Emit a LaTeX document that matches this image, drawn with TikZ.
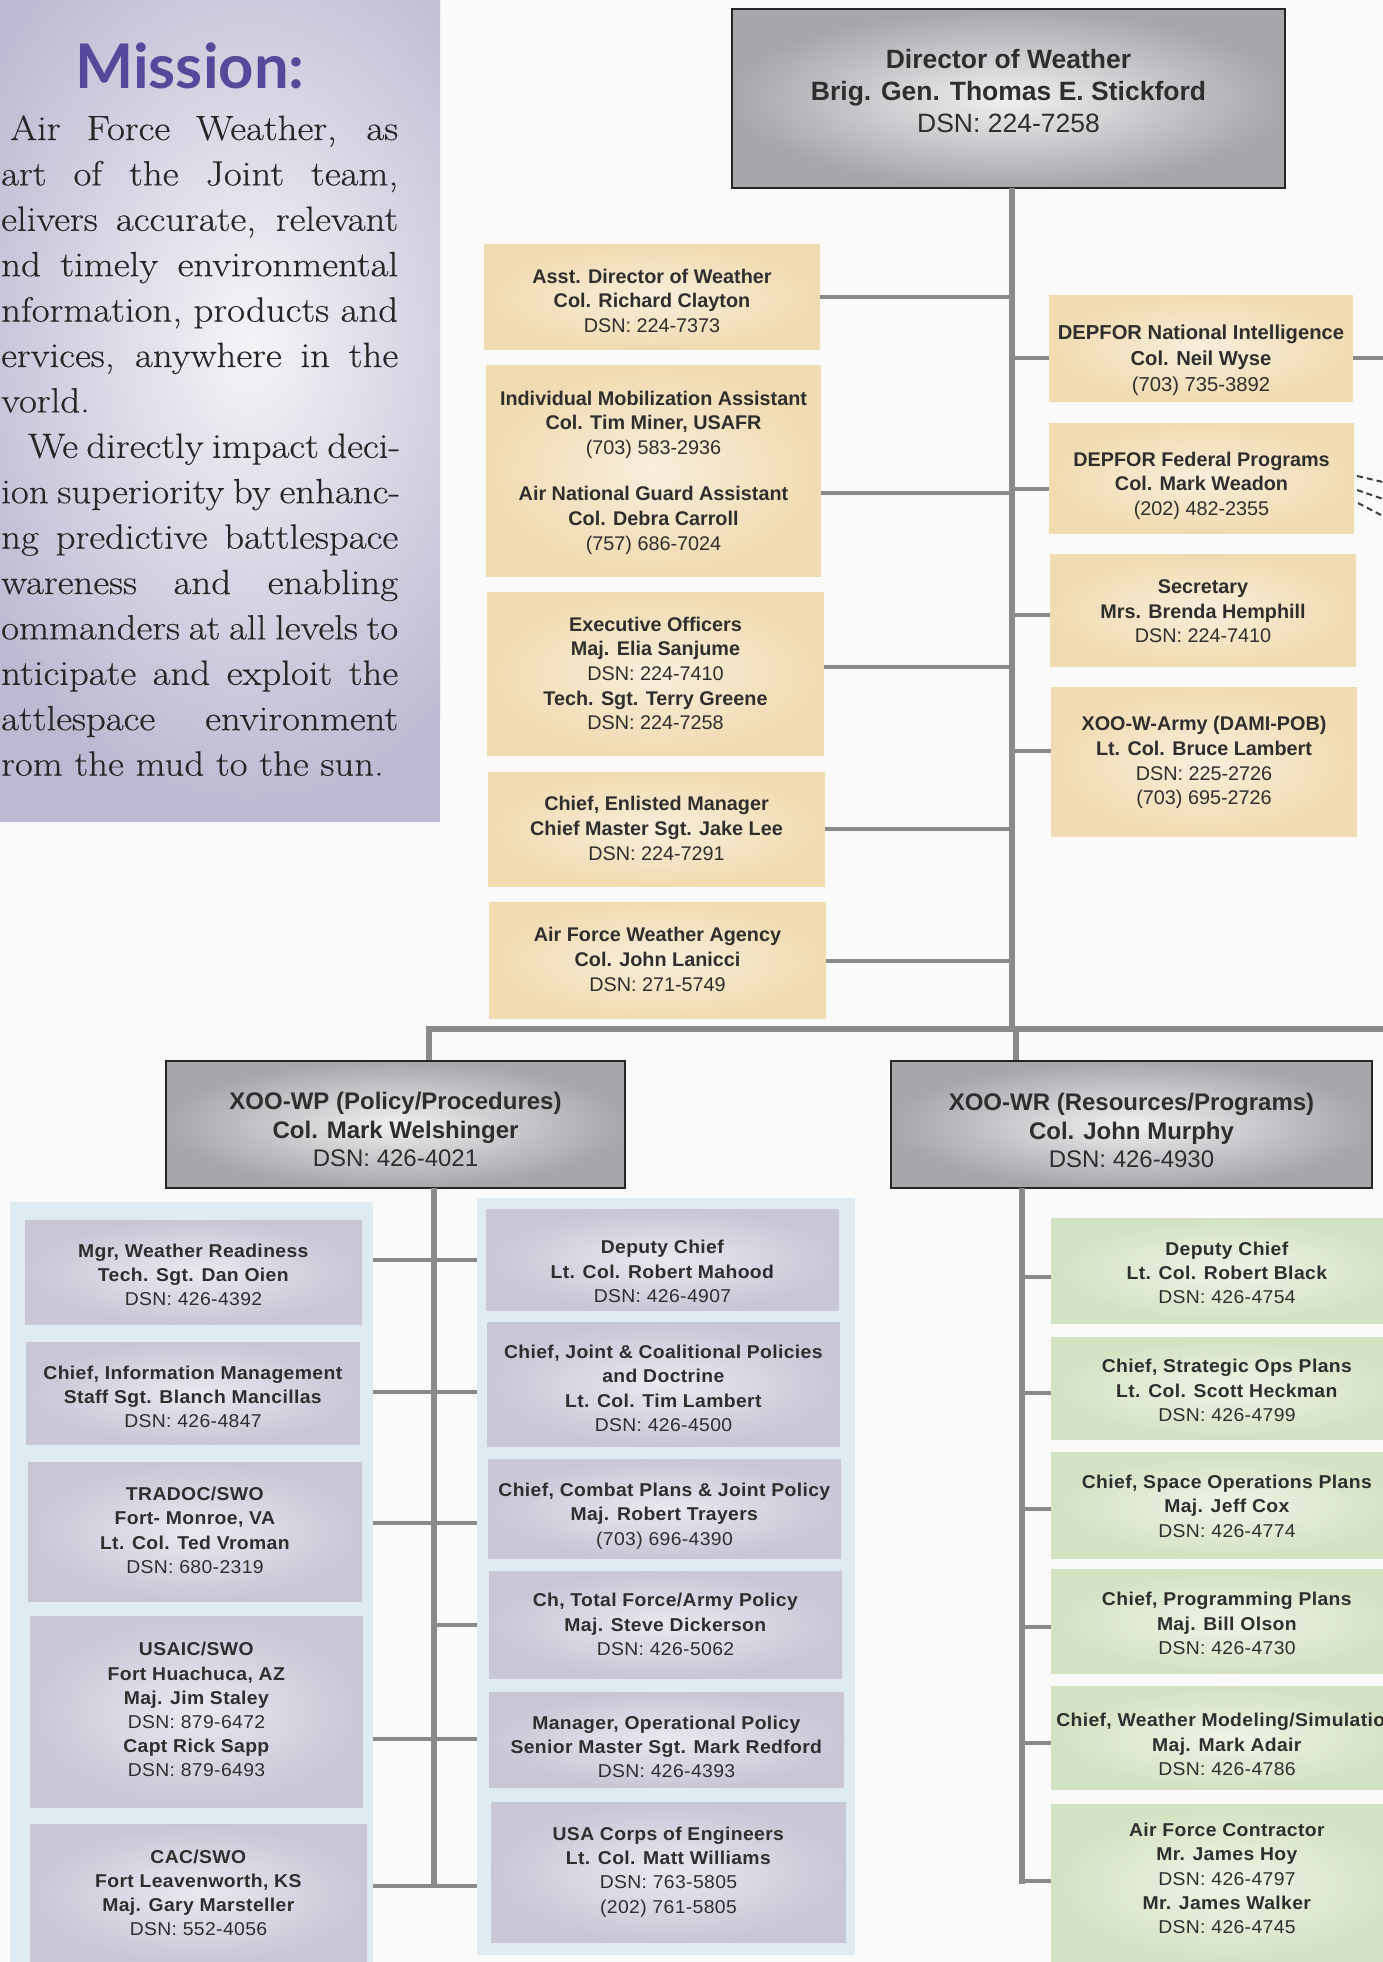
\documentclass[tikz,border=0pt]{standalone}
\usepackage{fontspec}
\usepackage{graphicx}
\newfontfamily\nsans{Liberation Sans}
\newfontfamily\wsans[FakeStretch=1.04,LetterSpace=2]{Liberation Sans}
\newfontfamily\titlef{Lato}
\newfontfamily\misf[FakeStretch=1.11,FakeBold=0.4]{Latin Modern Roman}
\definecolor{pagebg}{HTML}{FAFAFA}
\definecolor{tanout}{HTML}{F1DBB0}
\definecolor{tanin}{HTML}{F8EEDB}
\definecolor{lavout}{HTML}{C9C6D6}
\definecolor{lavin}{HTML}{E9E8EF}
\definecolor{grnout}{HTML}{D3E2C2}
\definecolor{grnin}{HTML}{EEF3E7}
\definecolor{grayout}{HTML}{A6A6AB}
\definecolor{grayin}{HTML}{F0F0F2}
\definecolor{panel}{HTML}{DEECF1}
\definecolor{conncol}{HTML}{8A8A8A}
\definecolor{txt}{HTML}{2E2E2E}
\definecolor{misout}{HTML}{BDB9D2}
\definecolor{misin}{HTML}{F4F4F7}
\definecolor{purp}{HTML}{58489B}
% #1 style, #2 name, #3 cx, #4 cy, #5 w, #6 h, #7 text offset (down), #8 text
\newcommand\orgbox[8]{%
  \node[#1, minimum width=#5pt, minimum height=#6pt] (#2) at (#3,#4) {};
  \node[#1text] (#2-t) at ([yshift=-#7pt]#2.center) {#8};}
\begin{document}
\begin{tikzpicture}[x=1pt,y=-1pt,
  box/.style={inner sep=0pt},
  btext/.style={inner sep=0pt, align=center, text=txt},
  tanbox/.style={box, inner color=tanin, outer color=tanout},
  tanboxtext/.style={btext, font=\nsans\fontsize{19.8}{24.6}\selectfont},
  tanbigtext/.style={btext, font=\nsans\fontsize{20.2}{26.2}\selectfont},
  lavbox/.style={box, inner color=lavin, outer color=lavout},
  lavboxtext/.style={btext, font=\wsans\fontsize{18.6}{24.2}\selectfont},
  grnbox/.style={box, inner color=grnin, outer color=grnout},
  grnboxtext/.style={btext, font=\wsans\fontsize{18.6}{24.2}\selectfont},
  headbox/.style={box, inner color=grayin, outer color=grayout, draw=black!85, line width=2.5pt},
  headboxtext/.style={btext, font=\nsans\fontsize{24}{28.8}\selectfont},
  dirbox/.style={headbox},
  dirboxtext/.style={btext, font=\nsans\fontsize{26.5}{32}\selectfont},
  conn/.style={draw=conncol, line width=4pt},
  trunkline/.style={draw=conncol, line width=6.5pt},
  mline/.style={inner sep=0pt, anchor=base west, text=black!85, font=\misf\fontsize{35}{45}\selectfont}
]
\useasboundingbox (0,0) rectangle (1383,1962);
\begin{scope}
\clip (0,0) rectangle (1383,1962);
\fill[pagebg] (0,0) rectangle (1383,1962);

% Mission panel
\begin{scope}
\clip (0,0) rectangle (440,822);
\fill[misout] (0,0) rectangle (440,822);
\shade[inner color=misin, outer color=misout] (250,340) ellipse (320 and 470);
\end{scope}
\node[inner sep=0pt, anchor=base, text=purp] (mtitle) at (190,88) {\resizebox{229pt}{!}{\titlef\bfseries Mission:}};
\node[mline] (mt1) at (10,140) {\makebox[388pt][s]{Air Force Weather, as}};
\node[mline] (mt2) at (1,185.4) {\makebox[397pt][s]{art of the Joint team,}};
\node[mline] (mt3) at (1,230.8) {\makebox[397pt][s]{elivers accurate, relevant}};
\node[mline] (mt4) at (1,276.2) {\makebox[397pt][s]{nd timely environmental}};
\node[mline] (mt5) at (1,321.6) {\makebox[397pt][s]{nformation, products and}};
\node[mline] (mt6) at (1,367.0) {\makebox[397pt][s]{ervices, anywhere in the}};
\node[mline] (mt7) at (1,412.4) {vorld.};
\node[mline] (mt8) at (28,457.8) {\makebox[372pt][s]{We directly impact deci-}};
\node[mline] (mt9) at (1,503.2) {\makebox[399pt][s]{ion superiority by enhanc-}};
\node[mline] (mt10) at (1,548.6) {\makebox[397pt][s]{ng predictive battlespace}};
\node[mline] (mt11) at (1,594.0) {\makebox[397pt][s]{wareness and enabling}};
\node[mline] (mt12) at (1,639.4) {\makebox[397pt][s]{ommanders at all levels to}};
\node[mline] (mt13) at (1,684.8) {\makebox[397pt][s]{nticipate and exploit the}};
\node[mline] (mt14) at (1,730.2) {\makebox[397pt][s]{attlespace environment}};
\node[mline] (mt15) at (1,775.6) {rom the mud to the sun.};

% Panels
\fill[panel] (10,1202) rectangle (373,1975);
\fill[panel] (477,1198) rectangle (855,1955);
\coordinate (lpE) at (373,1200);
\coordinate (mpW) at (477,1200);

% Director
\orgbox{dirbox}{dir}{1008.5}{98.5}{553}{179}{-7}{\textbf{Director of Weather}\\\textbf{Brig. Gen. Thomas E. Stickford}\\DSN: 224-7258}

% Upper left tan
\orgbox{tanbox}{asst}{652}{296.5}{336}{105}{4.4}{\textbf{Asst. Director of Weather}\\\textbf{Col. Richard Clayton}\\DSN: 224-7373}
\orgbox{tanbox}{ima}{653.5}{470.5}{335}{211}{2}{\textbf{Individual Mobilization Assistant}\\\textbf{Col. Tim Miner, USAFR}\\(703) 583-2936\\[22pt]\textbf{Air National Guard Assistant}\\\textbf{Col. Debra Carroll}\\(757) 686-7024}
\orgbox{tanbox}{exec}{655.5}{673.5}{337}{163}{0}{\textbf{Executive Officers}\\\textbf{Maj. Elia Sanjume}\\DSN: 224-7410\\\textbf{Tech. Sgt. Terry Greene}\\DSN: 224-7258}
\orgbox{tanbox}{cem}{656.5}{829}{337}{114}{-0.5}{\textbf{Chief, Enlisted Manager}\\\textbf{Chief Master Sgt. Jake Lee}\\DSN: 224-7291}
\orgbox{tanbox}{afwa}{657.5}{960}{337}{116}{-0.5}{\textbf{Air Force Weather Agency}\\\textbf{Col. John Lanicci}\\DSN: 271-5749}

% Upper right tan
\node[tanbox, minimum width=304pt, minimum height=106pt] (depi) at (1201,348) {};
\node[tanbigtext] (depi-t) at ([yshift=-12.5pt]depi.center) {\textbf{DEPFOR National Intelligence}\\\textbf{Col. Neil Wyse}\\(703) 735-3892};
\orgbox{tanbox}{depf}{1201.5}{478}{305}{110}{7.5}{\textbf{DEPFOR Federal Programs}\\\textbf{Col. Mark Weadon}\\(202) 482-2355}
\orgbox{tanbox}{sec}{1203}{610}{306}{112}{1.2}{\textbf{Secretary}\\\textbf{Mrs. Brenda Hemphill}\\DSN: 224-7410}
\orgbox{tanbox}{army}{1204}{761.5}{306}{149}{1.2}{\textbf{XOO-W-Army (DAMI-POB)}\\\textbf{Lt. Col. Bruce Lambert}\\DSN: 225-2726\\(703) 695-2726}

% XOO boxes
\orgbox{headbox}{wp}{395.5}{1124.5}{459}{127}{5}{\textbf{XOO-WP (Policy/Procedures)}\\\textbf{Col. Mark Welshinger}\\DSN: 426-4021}
\orgbox{headbox}{wr}{1131.5}{1124.5}{481}{127}{6}{\textbf{XOO-WR (Resources/Programs)}\\\textbf{Col. John Murphy}\\DSN: 426-4930}

% Left column
\orgbox{lavbox}{l1}{193.5}{1272}{337}{104}{3}{\textbf{Mgr, Weather Readiness}\\\textbf{Tech. Sgt. Dan Oien}\\DSN: 426-4392}
\orgbox{lavbox}{l2}{193}{1393}{334}{102}{4}{\textbf{Chief, Information Management}\\\textbf{Staff Sgt. Blanch Mancillas}\\DSN: 426-4847}
\orgbox{lavbox}{l3}{195}{1531.5}{334}{139}{-1.2}{\textbf{TRADOC/SWO}\\\textbf{Fort- Monroe, VA}\\\textbf{Lt. Col. Ted Vroman}\\DSN: 680-2319}
\orgbox{lavbox}{l4}{196.5}{1711.5}{333}{191}{-1.8}{\textbf{USAIC/SWO}\\\textbf{Fort Huachuca, AZ}\\\textbf{Maj. Jim Staley}\\DSN: 879-6472\\\textbf{Capt Rick Sapp}\\DSN: 879-6493}
\orgbox{lavbox}{l5}{198.5}{1894}{337}{140}{-1.2}{\textbf{CAC/SWO}\\\textbf{Fort Leavenworth, KS}\\\textbf{Maj. Gary Marsteller}\\DSN: 552-4056}

% Middle column
\orgbox{lavbox}{m1}{662.5}{1259.5}{353}{101}{12}{\textbf{Deputy Chief}\\\textbf{Lt. Col. Robert Mahood}\\DSN: 426-4907}
\orgbox{lavbox}{m2}{663.5}{1384}{353}{124}{4.4}{\textbf{Chief, Joint \& Coalitional Policies}\\\textbf{and Doctrine}\\\textbf{Lt. Col. Tim Lambert}\\DSN: 426-4500}
\orgbox{lavbox}{m3}{664.5}{1508.5}{353}{99}{7.5}{\textbf{Chief, Combat Plans \& Joint Policy}\\\textbf{Maj. Robert Trayers}\\(703) 696-4390}
\orgbox{lavbox}{m4}{665.5}{1624.5}{353}{107}{0}{\textbf{Ch, Total Force/Army Policy}\\\textbf{Maj. Steve Dickerson}\\DSN: 426-5062}
\orgbox{lavbox}{m5}{666.5}{1739.5}{355}{95}{7.5}{\textbf{Manager, Operational Policy}\\\textbf{Senior Master Sgt. Mark Redford}\\DSN: 426-4393}
\orgbox{lavbox}{m6}{668.5}{1872}{355}{140}{0}{\textbf{USA Corps of Engineers}\\\textbf{Lt. Col. Matt Williams}\\DSN: 763-5805\\(202) 761-5805}

% Right column
\orgbox{grnbox}{r1}{1227}{1270.5}{352}{105}{2.5}{\textbf{Deputy Chief}\\\textbf{Lt. Col. Robert Black}\\DSN: 426-4754}
\orgbox{grnbox}{r2}{1227}{1388}{352}{102}{2.5}{\textbf{Chief, Strategic Ops Plans}\\\textbf{Lt. Col. Scott Heckman}\\DSN: 426-4799}
\orgbox{grnbox}{r3}{1227}{1505}{352}{106}{1.2}{\textbf{Chief, Space Operations Plans}\\\textbf{Maj. Jeff Cox}\\DSN: 426-4774}
\orgbox{grnbox}{r4}{1227}{1621}{352}{104}{2.5}{\textbf{Chief, Programming Plans}\\\textbf{Maj. Bill Olson}\\DSN: 426-4730}
\orgbox{grnbox}{r5}{1227}{1737.5}{352}{103}{7}{\textbf{Chief, Weather Modeling/Simulation}\\\textbf{Maj. Mark Adair}\\DSN: 426-4786}
\orgbox{grnbox}{r6}{1227}{1884}{352}{160}{-5.5}{\textbf{Air Force Contractor}\\\textbf{Mr. James Hoy}\\DSN: 426-4797\\\textbf{Mr. James Walker}\\DSN: 426-4745}

% Connectors: main trunk and bar
\coordinate (trk) at (1012,188);
\coordinate (barL) at (429,1029);
\coordinate (barR) at (1383,1029);
\coordinate (wrdrop) at (1016,1029);
\coordinate (wpT) at (434,1188);
\coordinate (wrT) at (1022,1188);
\coordinate (edgeR) at (1383,358);
\draw[trunkline] (trk) -- (trk |- barL);
\draw[trunkline] ([xshift=-3pt]barL) -- (barR);
\draw[trunkline] (barL) -- (barL |- wp.north);
\draw[trunkline] (wrdrop) -- (wrdrop |- wr.north);
\draw[trunkline] (wpT) -- (434,1888);
\draw[trunkline] (wrT) -- (1022,1884);

% Upper stubs
\draw[conn] (asst.east |- 0,297) -- (trk |- 0,297);
\draw[conn] (ima.east |- 0,493) -- (trk |- 0,493);
\draw[conn] (exec.east |- 0,667) -- (trk |- 0,667);
\draw[conn] (cem.east |- 0,829) -- (trk |- 0,829);
\draw[conn] (afwa.east |- 0,961) -- (trk |- 0,961);
\draw[conn] (trk |- 0,358) -- (depi.west |- 0,358);
\draw[conn] (trk |- 0,489) -- (depf.west |- 0,489);
\draw[conn] (trk |- 0,615) -- (sec.west |- 0,615);
\draw[conn] (trk |- 0,751) -- (army.west |- 0,751);
\draw[conn] (depi.east |- 0,358) -- (edgeR);

% WP stubs
\draw[conn] (lpE |- 0,1260) -- (mpW |- 0,1260);
\draw[conn] (lpE |- 0,1392) -- (mpW |- 0,1392);
\draw[conn] (lpE |- 0,1523) -- (mpW |- 0,1523);
\draw[conn] (wpT |- 0,1625) -- (mpW |- 0,1625);
\draw[conn] (lpE |- 0,1739) -- (mpW |- 0,1739);
\draw[conn] (lpE |- 0,1886) -- (mpW |- 0,1886);

% WR stubs
\draw[conn] (wrT |- 0,1277) -- (r1.west |- 0,1277);
\draw[conn] (wrT |- 0,1393) -- (r2.west |- 0,1393);
\draw[conn] (wrT |- 0,1509) -- (r3.west |- 0,1509);
\draw[conn] (wrT |- 0,1627) -- (r4.west |- 0,1627);
\draw[conn] (wrT |- 0,1743) -- (r5.west |- 0,1743);
\draw[conn] ([xshift=-3.25pt]wrT |- 0,1881) -- (r6.west |- 0,1881);

% stray dashed marks at right edge
\coordinate (d1a) at (1357,476); \coordinate (d1b) at (1383,482);
\coordinate (d2a) at (1357,490); \coordinate (d2b) at (1383,499);
\coordinate (d3a) at (1358,503); \coordinate (d3b) at (1381,515);
\draw[black!75, line width=2pt, dash pattern=on 6pt off 4pt] (d1a) -- (d1b);
\draw[black!75, line width=2pt, dash pattern=on 6pt off 4pt] (d2a) -- (d2b);
\draw[black!75, line width=2pt, dash pattern=on 6pt off 4pt] (d3a) -- (d3b);
\end{scope}
\end{tikzpicture}
\end{document}
